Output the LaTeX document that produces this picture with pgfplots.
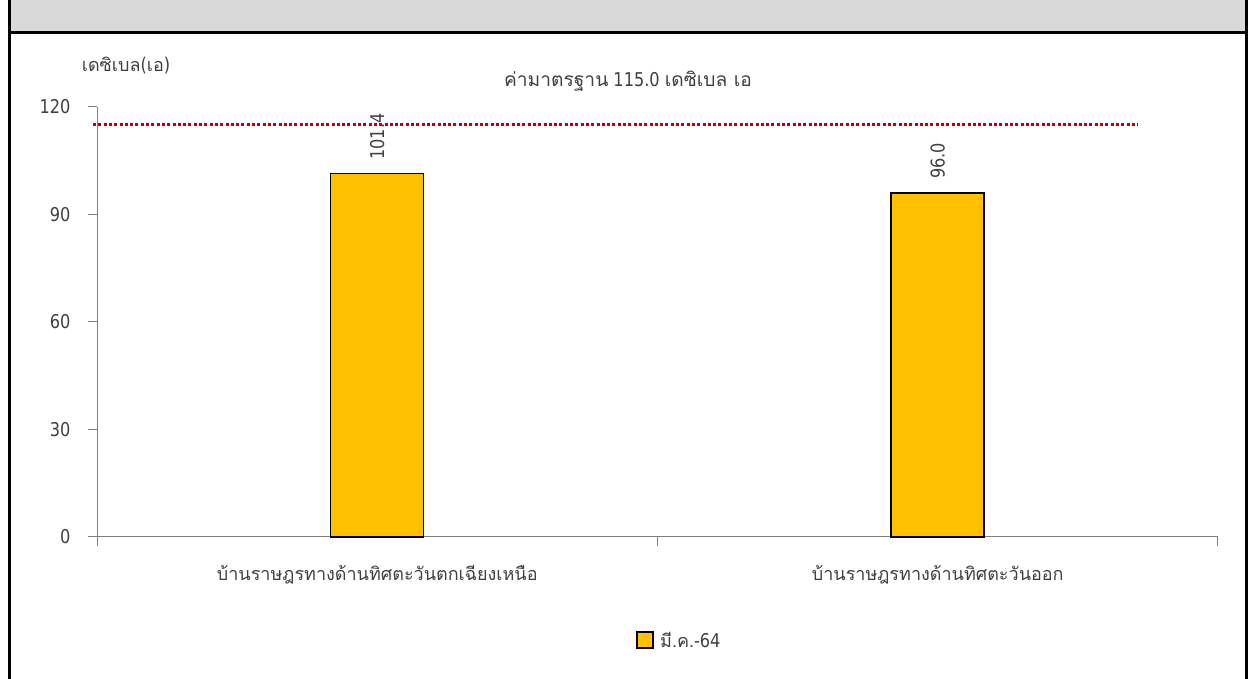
\documentclass[border=0pt]{standalone}
\usepackage{fontspec}
\setmainfont{DejaVu Sans}[FakeStretch=0.85]
\newfontfamily\thai[Script=Thai]{Loma}
\usepackage{pgfplots}
\pgfplotsset{compat=1.18}
\definecolor{barfill}{HTML}{FFC000}
\definecolor{txt}{HTML}{404040}
\definecolor{axgrey}{HTML}{808080}
\definecolor{limitred}{HTML}{C00000}
\definecolor{band}{HTML}{D9D9D9}
\newcommand\numfont{\fontsize{19}{22}\selectfont}
\newcommand\thfont{\thai\fontsize{18}{21}\selectfont}
\newcommand\thtitle{\thai\fontsize{19.2}{22}\selectfont}

\begin{document}
\begin{tikzpicture}[x=1pt,y=1pt]
\useasboundingbox (0,0) rectangle (1249,679);
% header band
\fill[band] (9,646) rectangle (1247,679);
\begin{axis}[
  at={(97pt,142pt)}, anchor=south west,
  scale only axis, width=1121pt, height=430pt,
  xmin=-0.5, xmax=1.5, ymin=0, ymax=120,
  ytick={0,30,60,90,120},
  xtick={-0.5,0.5,1.5},
  x tick label as interval,
  xticklabels={บ้านราษฎรทางด้านทิศตะวันตกเฉียงเหนือ,บ้านราษฎรทางด้านทิศตะวันออก},
  axis lines*=left,
  axis line style={axgrey, line width=1pt},
  tick style={axgrey, line width=1pt},
  tick align=outside, major tick length=9pt,
  /pgf/number format/assume math mode=true,
  yticklabel style={font=\numfont, text=txt, xshift=-14pt},
  xticklabel style={font=\thfont, text=txt, yshift=-16pt},
  clip=false,
  ybar, bar width=93pt,
  nodes near coords,
  nodes near coords style={font=\numfont, text=txt, rotate=90, anchor=west, xshift=10pt,
    /pgf/number format/.cd, fixed, fixed zerofill, precision=1, assume math mode=true},
  legend style={at={(0.5195,-0.242)}, anchor=center, draw=none, fill=none,
    font=\numfont, text=txt},
  legend image code/.code={\draw[#1, draw=black, line width=2pt] (0pt,-7pt) rectangle (16pt,9pt);
    \path[draw=none, fill=none] (0pt,0pt) rectangle (21pt,1pt);},
]
\addplot[fill=barfill, draw=black, line width=1.5pt] coordinates {(0,101.4) (1,96.0)};
\addlegendentry{{\thfont มี.ค.}-64}
% standard limit line at 115 dB(A)
\addplot[limitred, line width=3pt, dash pattern=on 3pt off 2.3pt, forget plot, nodes near coords={}, ybar=0pt, sharp plot]
  coordinates {(-0.507,115) (1.357,115)};
\end{axis}
% frame
\draw[line width=3pt] (9.3,0) -- (9.3,679);
\draw[line width=3pt] (1246.7,0) -- (1246.7,679);
\draw[line width=3pt] (9.3,646.3) -- (1246.7,646.3);
\node[text=txt, font=\numfont] at (628,598) {{\thtitle ค่ามาตรฐาน} 115.0 {\thtitle เดซิเบล เอ}};
\node[text=txt, font=\numfont] at (126,613) {{\thfont เดซิเบล}({\thfont เอ})};
\end{tikzpicture}
\end{document}
